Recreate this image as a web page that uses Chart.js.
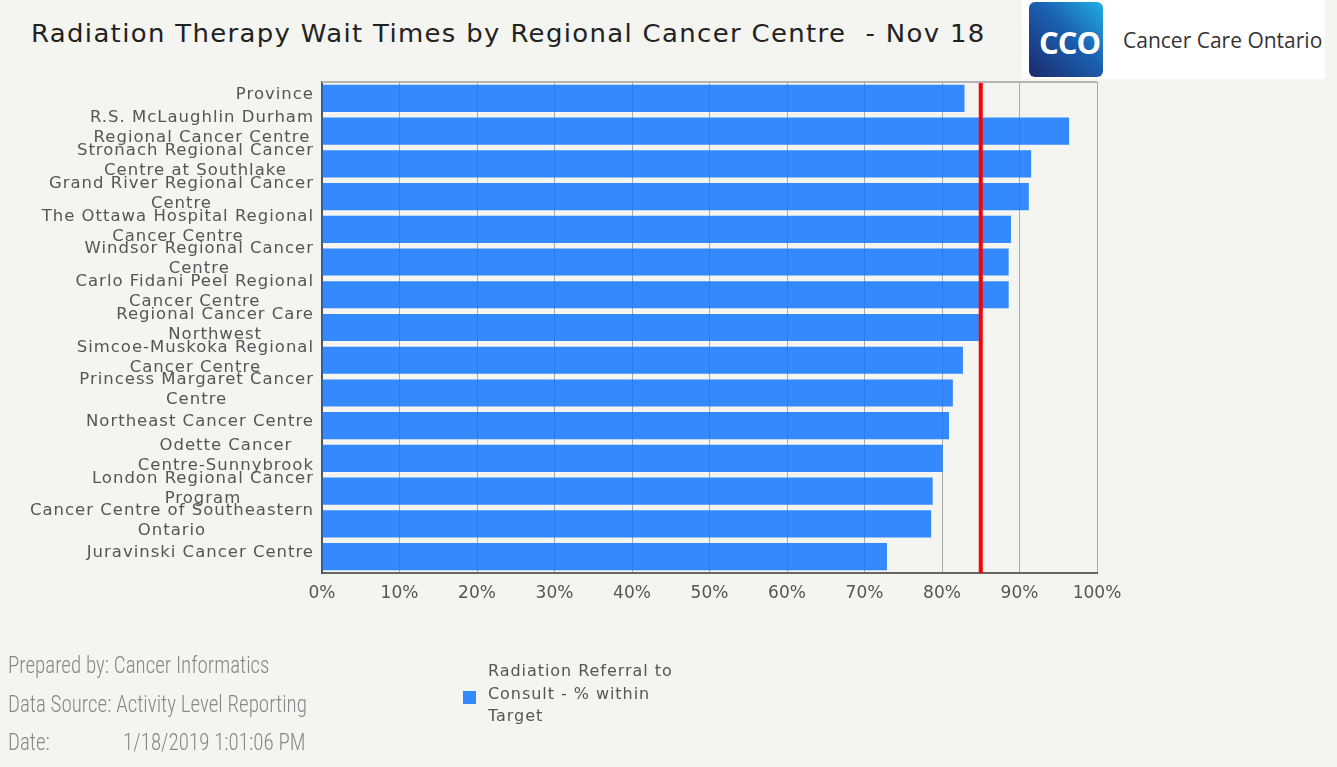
<!DOCTYPE html>
<html>
<head>
<meta charset="utf-8">
<script src="https://cdn.jsdelivr.net/npm/chart.js@4"></script>
<style>
  body { margin: 0; background: #f4f4f0; width: 1337px; height: 767px; overflow: hidden; position: relative; font-family: "DejaVu Sans", sans-serif; }
  #title { position: absolute; left: 31px; top: 20px; font-size: 24px; color: #222; letter-spacing: 1.25px; white-space: pre; transform: scaleX(1.08); transform-origin: 0 0; }
  #logoBox { position: absolute; left: 1022px; top: 0; width: 303px; height: 79px; background: #fff; }
  #logo { position: absolute; left: 1029px; top: 2px; width: 74px; height: 75px; border-radius: 6px;
          background: linear-gradient(225deg, #22aee4 0%, #1a5fb0 45%, #1c2a6c 100%); overflow: hidden; }
  #logo span { position: absolute; left: 10px; top: 19px; color: #fff; font: bold 31px "Open Sans", sans-serif; letter-spacing: -1px; }
  #logoText { position: absolute; left: 1123px; top: 26px; font: 21px "Open Sans", sans-serif; color: #333; }
  .foot { position: absolute; left: 8px; font: 21px "Roboto Condensed", sans-serif; font-weight: 300; color: #888; white-space: pre; transform: scaleY(1.12); transform-origin: 0 50%; }
  #legend { position: absolute; left: 463px; top: 660px; font: 16px "DejaVu Sans", sans-serif; color: #555; }
  #legend i { position: absolute; left: 0; top: 31px; width: 13px; height: 13px; background: #3389ff; }
  #legend div { position: absolute; left: 25px; top: 0; line-height: 22.5px; width: 260px; letter-spacing: 0.95px; }
  canvas { position: absolute; left: 0; top: 0; }
</style>
</head>
<body>
<div id="title">Radiation Therapy Wait Times by Regional Cancer Centre  - Nov 18</div>
<div id="logoBox"></div>
<div id="logo"><span>CCO</span></div>
<div id="logoText">Cancer Care Ontario</div>
<canvas id="chart" width="1337" height="767"></canvas>
<div class="foot" style="top:653px">Prepared by: Cancer Informatics</div>
<div class="foot" style="top:692px">Data Source: Activity Level Reporting</div>
<div class="foot" style="top:730px">Date:</div>
<div class="foot" style="top:730px; left:123px">1/18/2019 1:01:06 PM</div>
<div id="legend"><i></i><div>Radiation Referral to<br>Consult - % within<br>Target</div></div>
<script>
// Categories (each label split into its display lines)
const centres = [
    ['Province'],
    ['R.S. McLaughlin Durham', 'Regional Cancer Centre'],
    ['Stronach Regional Cancer', 'Centre at Southlake'],
    ['Grand River Regional Cancer', 'Centre'],
    ['The Ottawa Hospital Regional', 'Cancer Centre'],
    ['Windsor Regional Cancer', 'Centre'],
    ['Carlo Fidani Peel Regional', 'Cancer Centre'],
    ['Regional Cancer Care', 'Northwest'],
    ['Simcoe-Muskoka Regional', 'Cancer Centre'],
    ['Princess Margaret Cancer', 'Centre'],
    ['Northeast Cancer Centre'],
    ['Odette Cancer', 'Centre-Sunnybrook'],
    ['London Regional Cancer', 'Program'],
    ['Cancer Centre of Southeastern', 'Ontario'],
    ['Juravinski Cancer Centre']
];

// % of referrals seen for consult within target
const withinTarget = [82.9, 96.4, 91.5, 91.2, 88.9, 88.6, 88.6, 84.8, 82.7, 81.4, 80.9, 80.1, 78.8, 78.6, 72.9];

// Provincial target (red line)
const targetPct = 85;

// x axis tick values
const xTicks = [0, 10, 20, 30, 40, 50, 60, 70, 80, 90, 100];

// Plugin: y labels with centred lines, plot frame and the target line
const extras = {
    id: 'extras',
    afterDatasetsDraw(chart) {
        const ctx = chart.ctx;
        const area = chart.chartArea;
        const x = chart.scales.x;
        const y = chart.scales.y;

        // target line
        const tx = x.getPixelForValue(targetPct);
        ctx.save();
        ctx.fillStyle = '#ff0000';
        ctx.fillRect(tx - 2, area.top, 4, area.bottom - area.top);

        // top border
        ctx.fillStyle = '#b4b4b4';
        ctx.fillRect(area.left, area.top - 1, area.right - area.left, 2);

        // category labels, slightly stretched like the original
        const stretch = 1.1;
        ctx.font = '15px "DejaVu Sans"';
        ctx.letterSpacing = '0.9px';
        ctx.fillStyle = '#555';
        ctx.textAlign = 'center';
        ctx.textBaseline = 'middle';
        centres.forEach((lines, i) => {
            const cy = y.getPixelForTick(i);
            const w = Math.max(...lines.map(l => ctx.measureText(l).width)) * stretch;
            const cx = area.left - 8 - w / 2;
            const offs = lines.length === 1 ? [-3.5] : [-12.5, 7.5];
            lines.forEach((line, k) => {
                ctx.save();
                ctx.translate(cx, cy + offs[k]);
                ctx.scale(stretch, 1);
                ctx.fillText(line, 0, 0);
                ctx.restore();
            });
        });
        ctx.restore();
    }
};

new Chart(document.getElementById('chart'), {
    type: 'bar',
    data: {
        labels: centres,
        datasets: [{
            label: 'Radiation Referral to Consult - % within Target',
            data: withinTarget,
            backgroundColor: 'rgba(17, 118, 255, 0.85)',
            borderWidth: 0,
            categoryPercentage: 1,
            barPercentage: 0.83
        }]
    },
    options: {
        indexAxis: 'y',
        responsive: false,
        animation: false,
        layout: { padding: { left: 10, right: 240, top: 82, bottom: 164 } },
        plugins: {
            legend: { display: false },
            tooltip: { enabled: false }
        },
        scales: {
            x: {
                min: 0,
                max: 100,
                afterBuildTicks: s => { s.ticks = xTicks.map(v => ({ value: v })); },
                afterFit: s => { s.height = 30; },
                ticks: {
                    padding: 10,
                    color: '#555',
                    font: { family: 'DejaVu Sans', size: 17 },
                    callback: v => v + '%'
                },
                grid: { color: '#aaa', lineWidth: 1, drawTicks: false },
                border: { color: '#666', width: 2 }
            },
            y: {
                afterFit: s => { s.width = 312; },
                ticks: { display: false },
                grid: { display: false, drawTicks: false },
                border: { color: '#555', width: 2 }
            }
        }
    },
    plugins: [extras]
});
</script>
</body>
</html>
